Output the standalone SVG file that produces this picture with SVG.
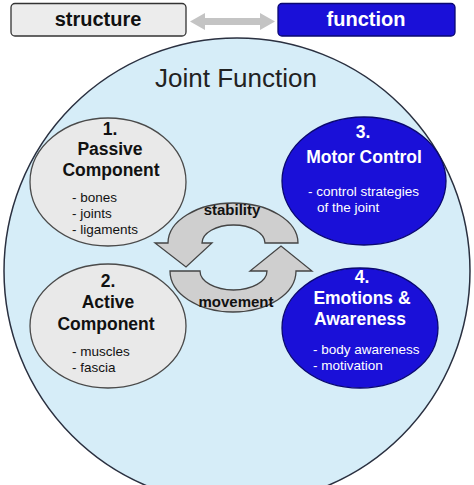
<svg xmlns="http://www.w3.org/2000/svg" width="474" height="485" viewBox="0 0 474 485">
<defs>
<style>
.t{font-family:"Liberation Sans",Arial,sans-serif;text-anchor:middle}
.b{font-weight:bold;font-size:17.5px}
.l{font-family:"Liberation Sans",Arial,sans-serif;font-size:13.5px}
.gray{fill:#e9e9e9;stroke:#4a4a4a;stroke-width:1.3}
.blue{fill:#1a10d8;stroke:#0a0870;stroke-width:1.3}
.dk{fill:#111}
.wh{fill:#fff}
.cyc{fill:#cfcfcf;stroke:#444;stroke-width:1.3}
</style>
</defs>
<rect width="474" height="485" fill="#fff"/>
<g id="main-circle">
<circle cx="237" cy="271" r="233" fill="#d6edf8" stroke="#2a3040" stroke-width="1.5"/>
<text class="t" x="236" y="87" font-size="26" fill="#222">Joint Function</text>
</g>
<g id="structure">
<rect x="11" y="3.5" width="175" height="32.5" rx="4" fill="#ececec" stroke="#333" stroke-width="1.3"/>
<text class="t dk" x="98" y="26" font-size="20" font-weight="bold">structure</text>
</g>
<g id="function">
<rect x="278" y="3.5" width="177" height="32.5" rx="4" fill="#1a10d8" stroke="#0a0870" stroke-width="1.3"/>
<text class="t wh" x="366" y="26" font-size="20" font-weight="bold">function</text>
</g>
<g id="connectors">
<path d="M190,21.5 L205,13 L205,18 L260,18 L260,13 L275,21.5 L260,30 L260,25 L205,25 L205,30 Z" fill="#c4c4c4"/>
<path class="cyc" d="M298,243 A65,40 0 0 0 168,243 L155,243 L186,267 L212,243 L202,243 A31.5,18 0 0 1 265,243 Z"/>
<path class="cyc" d="M170,271 A63,41 0 0 0 296,271 L312,271 L281,246 L250,271 L267,271 A33.5,19 0 0 1 200,271 Z"/>
<text class="t dk" x="232" y="215" font-size="15" font-weight="bold">stability</text>
<text class="t dk" x="236" y="307" font-size="15" font-weight="bold">movement</text>
</g>
<g id="passive">
<ellipse class="gray" cx="108" cy="182" rx="78" ry="64"/>
<text class="t b dk" x="110" y="135">1.</text>
<text class="t b dk" x="110" y="155">Passive</text>
<text class="t b dk" x="111" y="176">Component</text>
<text class="l dk" x="72" y="202">- bones</text>
<text class="l dk" x="72" y="218">- joints</text>
<text class="l dk" x="72" y="234">- ligaments</text>
</g>
<g id="active">
<ellipse class="gray" cx="108" cy="326" rx="78" ry="62"/>
<text class="t b dk" x="108" y="287">2.</text>
<text class="t b dk" x="108" y="308">Active</text>
<text class="t b dk" x="106" y="330">Component</text>
<text class="l dk" x="72" y="356">- muscles</text>
<text class="l dk" x="72" y="372">- fascia</text>
</g>
<g id="motor">
<ellipse class="blue" cx="364" cy="181" rx="82" ry="64"/>
<text class="t b wh" x="363" y="138">3.</text>
<text class="t b wh" x="364" y="163">Motor Control</text>
<text class="l wh" x="308" y="196">- control strategies</text>
<text class="l wh" x="317" y="212">of the joint</text>
</g>
<g id="emotions">
<ellipse class="blue" cx="360" cy="328" rx="78" ry="60"/>
<text class="t b wh" x="362" y="283">4.</text>
<text class="t b wh" x="362" y="304">Emotions &amp;</text>
<text class="t b wh" x="360" y="325">Awareness</text>
<text class="l wh" x="313" y="354">- body awareness</text>
<text class="l wh" x="313" y="370">- motivation</text>
</g>
</svg>
